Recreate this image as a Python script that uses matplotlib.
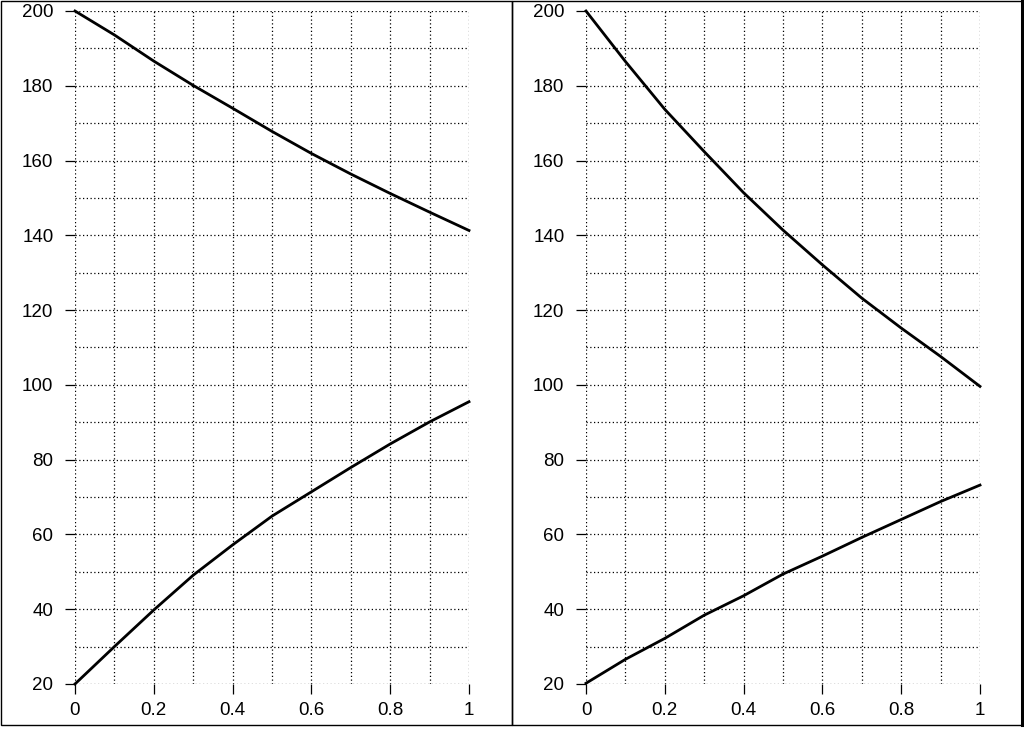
import numpy as np
import matplotlib.pyplot as plt
from matplotlib.patches import Rectangle
from matplotlib.lines import Line2D
from matplotlib.ticker import MultipleLocator

t = [0.0, 0.1, 0.2, 0.3, 0.4, 0.5, 0.6, 0.7, 0.8, 0.9, 1.0]

left_upper = [200.0, 193.6, 186.6, 180.1, 174.0, 167.8, 161.9, 156.4, 151.2, 146.2, 141.3]
left_lower = [20.0, 30.0, 39.8, 49.1, 57.2, 64.9, 71.4, 77.9, 84.2, 90.1, 95.5]
right_upper = [200.0, 186.5, 173.7, 162.4, 151.4, 141.4, 132.1, 123.2, 115.2, 107.6, 99.6]
right_lower = [20.2, 26.6, 32.2, 38.4, 43.6, 49.4, 54.2, 59.2, 64.0, 68.8, 73.2]

xticks = [0, 0.2, 0.4, 0.6, 0.8, 1]
xticklabels = ["0", "0.2", "0.4", "0.6", "0.8", "1"]
yticks = [20, 40, 60, 80, 100, 120, 140, 160, 180, 200]

plt.rcParams['font.family'] = ['Liberation Sans', 'DejaVu Sans']

W, H = 1024, 742
fig = plt.figure(figsize=(W / 100, H / 100), dpi=100)

# panel frames
fig.add_artist(Rectangle((1 / W, 1 - 725 / H), 510.5 / W, 724 / H, transform=fig.transFigure,
                         fill=False, edgecolor='black', linewidth=1.0))
fig.add_artist(Rectangle((511.5 / W, 1 - 725 / H), 510.5 / W, 724 / H, transform=fig.transFigure,
                         fill=False, edgecolor='black', linewidth=1.0))
fig.add_artist(Line2D([1022 / W, 1022 / W], [1 - 725 / H, 1 - 1 / H], transform=fig.transFigure,
                      color='black', linewidth=2.2))


def draw_panel(left_px, upper, lower):
    ax = fig.add_axes([left_px / W, 1 - 684 / H, 394 / W, 673 / H])
    ax.set_xlim(0, 1)
    ax.set_ylim(20, 200)
    for s in ax.spines.values():
        s.set_visible(False)
    ax.set_xticks(xticks)
    ax.set_xticklabels(xticklabels)
    ax.set_yticks(yticks)
    ax.xaxis.set_minor_locator(MultipleLocator(0.1))
    ax.yaxis.set_minor_locator(MultipleLocator(10))
    ax.tick_params(which='major', length=7.5, width=0.9, labelsize=13.5, color='black')
    ax.tick_params(axis='y', which='major', pad=8)
    ax.tick_params(axis='x', which='major', pad=5.5)
    ax.tick_params(which='minor', length=0)
    ax.grid(True, which='both', color='black', linestyle=(0, (1, 2)), linewidth=0.9)
    ax.set_axisbelow(True)
    ax.plot(t, upper, color='black', linewidth=2.0, clip_on=False)
    ax.plot(t, lower, color='black', linewidth=2.0, clip_on=False)
    return ax


draw_panel(75, left_upper, left_lower)
draw_panel(586, right_upper, right_lower)

fig.savefig("out.png", dpi=100)
